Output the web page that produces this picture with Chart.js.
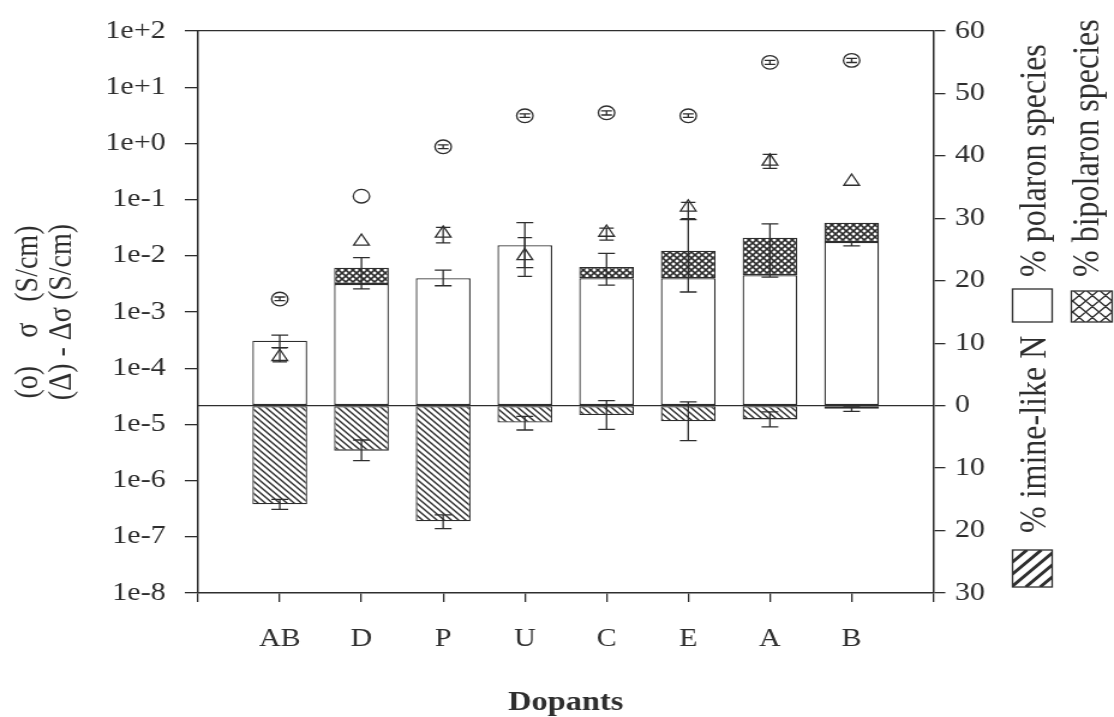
<!DOCTYPE html>
<html>
<head>
<meta charset="utf-8">
<script src="https://cdn.jsdelivr.net/npm/chart.js@4.4.0/dist/chart.umd.min.js"></script>
<style>
  html, body { margin: 0; padding: 0; background: #fff; overflow: hidden; }
  /* the scan is wider than tall, so the whole drawing is stretched sideways */
  #wrap { width: 928px; height: 717px; transform: scaleX(1.2004); transform-origin: 0 0; }
</style>
</head>
<body>
<div id="wrap"><canvas id="chart"></canvas></div>
<script>
// values
const dopants = ['AB', 'D', 'P', 'U', 'C', 'E', 'A', 'B'];
const seriesNames = ['% polaron species', '% bipolaron species', '% imine-like N'];

// % species (right axis)
const polaron   = [10.4, 19.5, 20.4, 25.7, 20.4, 20.4, 20.9, 26.2];
const bipolaron = [0, 2.6, 0, 0, 1.8, 4.4, 6.0, 3.1];
const imine     = [15.8, 7.2, 18.5, 2.7, 1.5, 2.5, 2.2, 0.5];

// error bars on the bars (upper part / lower part, in %)
const posErrLo = [9.3, 18.7, 19.2, 22.1, 19.3, 18.2, 20.6, 25.6];
const posErrHi = [11.3, 23.7, 21.7, 29.3, 24.4, 29.8, 29.1, 26.2];
const negErrLo = [15.0, 5.5, 17.5, 1.7, -0.8, -0.6, 1.0, 0.2];
const negErrHi = [16.6, 8.8, 19.7, 3.9, 3.8, 5.6, 3.4, 0.9];

// conductivity (left axis, S/cm)
const sigma      = [1.7e-3, 0.115, 0.87, 3.1, 3.5, 3.1, 27.7, 30];
const sigmaLo    = [1.6e-3, null, 0.81, 2.9, 3.2, 2.9, 25.5, 27.5];
const sigmaHi    = [1.85e-3, null, 0.94, 3.35, 3.8, 3.35, 30, 32.5];
const deltaSigma = [1.6e-4, 0.018, 0.025, 0.010, 0.026, 0.073, 0.48, 0.21];
const deltaLo    = [1.3e-4, null, 0.017, 0.0043, 0.019, 0.046, 0.36, null];
const deltaHi    = [2.3e-4, null, 0.032, 0.021, 0.031, 0.089, 0.64, null];

const sigmaTickValues = [1e-8, 1e-7, 1e-6, 1e-5, 1e-4, 1e-3, 1e-2, 1e-1, 1e0, 1e1, 1e2];
const sigmaTickLabels = ['1e-8', '1e-7', '1e-6', '1e-5', '1e-4', '1e-3', '1e-2', '1e-1', '1e+0', '1e+1', '1e+2'];
const percentTickLabels = ['30', '20', '10', '0', '10', '20', '30', '40', '50', '60'];

const ink = '#2e2e2e';
Chart.defaults.font.family = '"Liberation Serif", "Times New Roman", serif';
Chart.defaults.color = ink;

// empty slot at each end so the first and last bars sit one step in from the axes
const labels = ['', ...dopants, ''];
const pad = arr => [null, ...arr, null];

function makePattern(size, draw) {
  const c = document.createElement('canvas');
  c.width = size; c.height = size;
  const t = c.getContext('2d');
  t.fillStyle = '#fff';
  t.fillRect(0, 0, size, size);
  t.strokeStyle = ink;
  draw(t, size);
  return t.createPattern(c, 'repeat');
}

const hatch = makePattern(6, (t, s) => {
  t.lineWidth = 1.4;
  t.beginPath();
  t.moveTo(0, 0); t.lineTo(s, s);
  t.moveTo(-1, s - 1); t.lineTo(1, s + 1);
  t.moveTo(s - 1, -1); t.lineTo(s + 1, 1);
  t.stroke();
});

const crossHatch = makePattern(6, (t, s) => {
  t.lineWidth = 1.6;
  t.beginPath();
  t.moveTo(0, 0); t.lineTo(s, s);
  t.moveTo(s, 0); t.lineTo(0, s);
  t.stroke();
});

const errorBars = {
  id: 'errorBars',
  afterDatasetsDraw(chart) {
    const { ctx } = chart;
    const { x, y, y2 } = chart.scales;
    ctx.save();
    ctx.strokeStyle = ink;
    ctx.lineWidth = 1.3;
    const draw = (px, a, b, cap) => {
      ctx.beginPath();
      ctx.moveTo(px, a); ctx.lineTo(px, b);
      ctx.moveTo(px - cap, a); ctx.lineTo(px + cap, a);
      ctx.moveTo(px - cap, b); ctx.lineTo(px + cap, b);
      ctx.stroke();
    };
    dopants.forEach((d, i) => {
      const px = x.getPixelForValue(i + 1);
      draw(px, y2.getPixelForValue(posErrLo[i]), y2.getPixelForValue(posErrHi[i]), 7);
      draw(px, y2.getPixelForValue(-negErrLo[i]), y2.getPixelForValue(-negErrHi[i]), 7);
      if (sigmaLo[i] != null) draw(px, y.getPixelForValue(sigmaLo[i]), y.getPixelForValue(sigmaHi[i]), 4.5);
      if (deltaLo[i] != null) draw(px, y.getPixelForValue(deltaLo[i]), y.getPixelForValue(deltaHi[i]), 6);
    });
    ctx.restore();
  }
};

// legend written sideways to the right of the % axis
const sideLegend = {
  id: 'sideLegend',
  afterDraw(chart) {
    const { ctx, chartArea: a } = chart;
    const r = a.right;
    ctx.save();
    ctx.fillStyle = ink;
    ctx.strokeStyle = ink;
    ctx.font = '32px "Liberation Serif", serif';
    const text = (s, tx, ty) => {
      ctx.save();
      ctx.translate(tx, ty);
      ctx.rotate(-Math.PI / 2);
      ctx.textAlign = 'left';
      ctx.textBaseline = 'middle';
      ctx.fillText(s, 0, 0);
      ctx.restore();
    };
    text(seriesNames[0], r + 85, 277);
    text(seriesNames[1], r + 129, 277);
    text(seriesNames[2], r + 85, 533);

    ctx.lineWidth = 1.3;
    // white box
    ctx.strokeRect(r + 66, 289, 33, 33);
    // cross hatched box
    const bx = r + 115, by = 291, bw = 34, bh = 31;
    ctx.save();
    ctx.beginPath(); ctx.rect(bx, by, bw, bh); ctx.clip();
    ctx.beginPath();
    for (let k = -bh; k < bw + bh; k += 11) {
      ctx.moveTo(bx + k, by); ctx.lineTo(bx + k + bh, by + bh);
      ctx.moveTo(bx + k, by + bh); ctx.lineTo(bx + k + bh, by);
    }
    ctx.stroke();
    ctx.restore();
    ctx.strokeRect(bx, by, bw, bh);
    // hatched box
    const hx = r + 66, hy = 550, hw = 33, hh = 37;
    ctx.save();
    ctx.beginPath(); ctx.rect(hx, hy, hw, hh); ctx.clip();
    ctx.lineWidth = 3;
    ctx.beginPath();
    for (let k = -hh; k < hw + hh; k += 12) {
      ctx.moveTo(hx + k, hy + hh); ctx.lineTo(hx + k + hh, hy);
    }
    ctx.stroke();
    ctx.restore();
    ctx.lineWidth = 1.3;
    ctx.strokeRect(hx, hy, hw, hh);
    ctx.restore();
  }
};

const barCommon = {
  yAxisID: 'y2',
  stack: 'all',
  order: 2,
  borderColor: ink,
  borderWidth: 1.3,
  borderSkipped: false,
  barPercentage: 0.67,
  categoryPercentage: 1
};

new Chart(document.getElementById('chart'), {
  type: 'bar',
  data: {
    labels: labels,
    datasets: [
      { ...barCommon, label: seriesNames[0], data: pad(polaron), backgroundColor: '#fff' },
      { ...barCommon, label: seriesNames[1], data: pad(bipolaron.map(v => v || null)), backgroundColor: crossHatch },
      { ...barCommon, label: seriesNames[2], data: pad(imine.map(v => -v)), backgroundColor: hatch },
      {
        type: 'line', label: 'σ', data: pad(sigma), yAxisID: 'y', order: 0, showLine: false,
        pointStyle: 'circle', pointRadius: 6.8, pointBackgroundColor: '#fff',
        pointBorderColor: ink, pointBorderWidth: 1.3
      },
      {
        type: 'line', label: 'Δσ', data: pad(deltaSigma), yAxisID: 'y', order: 0, showLine: false,
        pointStyle: 'triangle', pointRadius: 7.5, pointBackgroundColor: '#fff',
        pointBorderColor: ink, pointBorderWidth: 1.3
      }
    ]
  },
  options: {
    responsive: true,
    maintainAspectRatio: false,
    animation: false,
    layout: { padding: { top: 26, left: 0, right: 0, bottom: 0 } },
    plugins: { legend: { display: false }, tooltip: { enabled: false } },
    scales: {
      x: {
        type: 'category',
        offset: false,
        stacked: true,
        grid: { offset: false, drawOnChartArea: false, drawTicks: true, tickLength: 9, tickColor: ink, lineWidth: 1.3 },
        border: { display: true, color: ink, width: 1.5 },
        ticks: { font: { size: 25 }, color: ink, padding: 22, autoSkip: false, maxRotation: 0 },
        title: { display: true, text: 'Dopants', color: ink, font: { size: 27, weight: 'bold', lineHeight: 1 }, padding: { top: 0, bottom: 0 } },
        afterFit: s => { s.height = 124; }
      },
      y: {
        type: 'logarithmic',
        position: 'left',
        min: 1e-8,
        max: 1e2,
        afterBuildTicks: s => { s.ticks = sigmaTickValues.map(v => ({ value: v })); },
        grid: { drawOnChartArea: false, drawTicks: true, tickLength: 11, tickColor: ink, lineWidth: 1.3 },
        border: { display: true, color: ink, width: 1.5 },
        ticks: { font: { size: 25 }, color: ink, padding: 16, callback: (v, i) => sigmaTickLabels[i] },
        title: {
          display: true,
          text: ['(o)    σ   (S/cm)', '(Δ) - Δσ (S/cm)'],
          color: ink,
          font: { size: 28, lineHeight: 1 },
          padding: { top: 10, bottom: 0 }
        },
        afterFit: s => { s.width = 165; }
      },
      y2: {
        type: 'linear',
        position: 'right',
        min: -30,
        max: 60,
        stacked: true,
        grid: {
          drawOnChartArea: true,
          drawTicks: true,
          tickLength: 10,
          tickColor: ink,
          lineWidth: 1.3,
          color: c => (c.tick && (c.tick.value === 0 || c.tick.value === 60)) ? ink : 'rgba(0,0,0,0)'
        },
        border: { display: true, color: ink, width: 1.5 },
        ticks: { stepSize: 10, font: { size: 25 }, color: ink, padding: 8, callback: (v, i) => percentTickLabels[i] },
        afterFit: s => { s.width = 150.5; }
      }
    }
  },
  plugins: [errorBars, sideLegend]
});
</script>
</body>
</html>
